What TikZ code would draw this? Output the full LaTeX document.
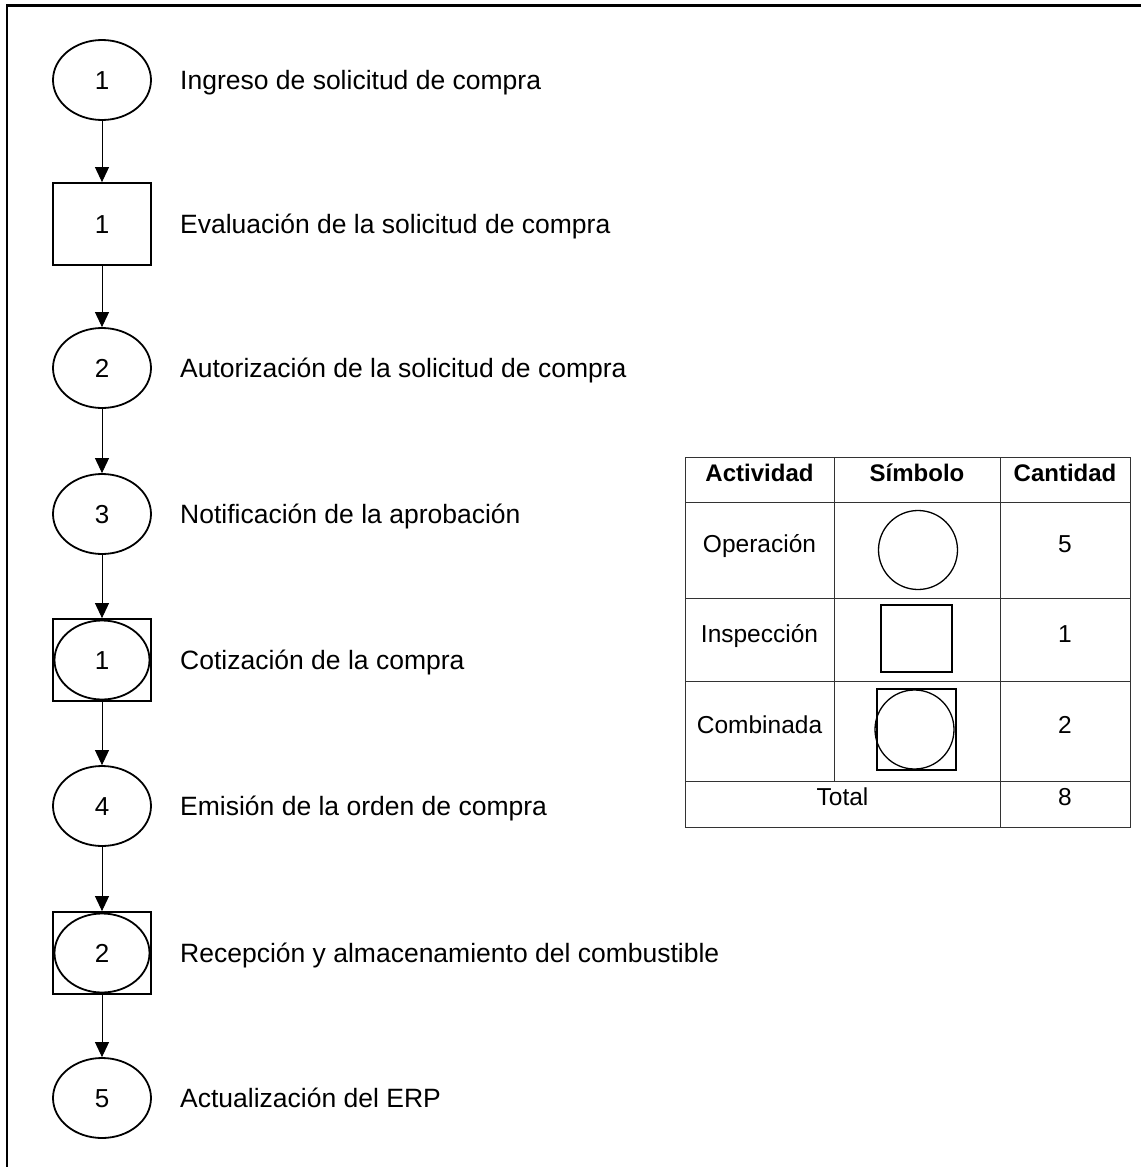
\documentclass[tikz,border=0pt]{standalone}
\usepackage{fontspec}
\setmainfont{Liberation Sans}
\usetikzlibrary{shapes.geometric,arrows.meta}
\begin{document}
\begin{tikzpicture}[x=1pt,y=-1pt,
  op/.style={ellipse,draw,line width=1.8pt,minimum width=98pt,minimum height=80pt,inner sep=0pt},
  insp/.style={rectangle,draw,line width=1.8pt,minimum width=98pt,minimum height=82pt,inner sep=0pt},
  comb/.style={rectangle,draw,line width=1.8pt,minimum width=98pt,minimum height=82pt,inner sep=0pt},
  combin/.style={ellipse,draw,line width=1.8pt,minimum width=95pt,minimum height=79pt,inner sep=0pt},
  num/.style={anchor=base,inner sep=0pt,font=\fontsize{26}{30}\selectfont},
  lbl/.style={anchor=base west,inner sep=0pt,font=\fontsize{26.5}{30}\selectfont},
  flow/.style={line width=0.9pt,-{Triangle[width=14pt,length=15pt]}},
  grid/.style={line width=1pt,draw=black!80},
  cell/.style={anchor=base,font=\fontsize{24.5}{28}\selectfont,inner sep=0pt},
  head/.style={anchor=base,font=\bfseries\fontsize{24}{28}\selectfont,inner sep=0pt}]
\useasboundingbox (0,0) rectangle (1141,1167);
% outer frame (top and left edges)
\draw[line width=2.6pt] (7,1167) -- (7,5.5) -- (1141,5.5);

% process chart
\node[op] (o1) at (102,80) {};
\node[insp] (i1) at (102,224) {};
\node[op] (o2) at (102,368) {};
\node[op] (o3) at (102,514) {};
\node[comb] (c1) at (102,660) {};
\node[combin] (c1e) at (102,660) {};
\node[op] (o4) at (102,806) {};
\node[comb] (c2) at (102,953) {};
\node[combin] (c2e) at (102,953) {};
\node[op] (o5) at (102,1098) {};

% step numbers, baseline a little below each centre
\node[num] (n1) at ([yshift=-9.5pt]o1.center) {1};
\node[num] (n2) at ([yshift=-9.5pt]i1.center) {1};
\node[num] (n3) at ([yshift=-9.5pt]o2.center) {2};
\node[num] (n4) at ([yshift=-9.5pt]o3.center) {3};
\node[num] (n5) at ([yshift=-9.5pt]c1.center) {1};
\node[num] (n6) at ([yshift=-9.5pt]o4.center) {4};
\node[num] (n7) at ([yshift=-9.5pt]c2.center) {2};
\node[num] (n8) at ([yshift=-9.5pt]o5.center) {5};

\draw[flow] (o1) -- (i1);
\draw[flow] (i1) -- (o2);
\draw[flow] (o2) -- (o3);
\draw[flow] (o3) -- (c1);
\draw[flow] (c1) -- (o4);
\draw[flow] (o4) -- (c2);
\draw[flow] (c2) -- (o5);

\node[lbl] (t1) at (180,89.5) {Ingreso de solicitud de compra};
\node[lbl] (t2) at (180,233.5) {Evaluación de la solicitud de compra};
\node[lbl] (t3) at (180,377.5) {Autorización de la solicitud de compra};
\node[lbl] (t4) at (180,523.5) {Notificación de la aprobación};
\node[lbl] (t5) at (180,669.5) {Cotización de la compra};
\node[lbl] (t6) at (180,815.5) {Emisión de la orden de compra};
\node[lbl] (t7) at (180,962.5) {Recepción y almacenamiento del combustible};
\node[lbl] (t8) at (180,1107.5) {Actualización del ERP};

% summary table
\draw[grid] (685,457) rectangle (1130,827);
\draw[grid] (685,502) -- (1130,502);
\draw[grid] (685,598) -- (1130,598);
\draw[grid] (685,681) -- (1130,681);
\draw[grid] (685,781) -- (1130,781);
\draw[grid] (834,457) -- (834,781);
\draw[grid] (1000,457) -- (1000,827);

\node[head] (h1) at (759.5,481) {Actividad};
\node[head] (h2) at (917,481) {Símbolo};
\node[head] (h3) at (1065,481) {Cantidad};

\node[cell] (r1a) at (759.5,552) {Operación};
\node[circle,draw,line width=1.3pt,minimum size=79pt,inner sep=0pt] (r1b) at (918,550) {};
\node[cell] (r1c) at (1065,552) {5};

\node[cell] (r2a) at (759.5,642) {Inspección};
\node[rectangle,draw,line width=1.3pt,minimum width=71pt,minimum height=67pt,inner sep=0pt] (r2b) at (916.5,638.5) {};
\node[cell] (r2c) at (1065,642) {1};

\node[cell] (r3a) at (759.5,733) {Combinada};
\node[rectangle,draw,line width=1.3pt,minimum width=79pt,minimum height=81pt,inner sep=0pt] (r3b) at (916.5,729.5) {};
\node[circle,draw,line width=1.3pt,minimum size=79pt,inner sep=0pt] (r3e) at (914.5,729.5) {};
\node[cell] (r3c) at (1065,733) {2};

\node[cell] (r4a) at (842.5,805) {Total};
\node[cell] (r4c) at (1065,805) {8};
\end{tikzpicture}
\end{document}
